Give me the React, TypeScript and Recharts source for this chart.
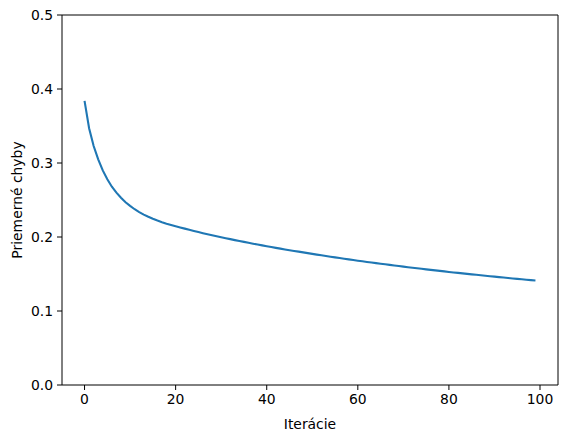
import React from 'react';
import { LineChart, Line, XAxis, YAxis, ReferenceLine, Label } from 'recharts';

const iterations: number[] = Array.from({ length: 100 }, (_, i) => i);
const errors: number[] = [
  0.384, 0.347, 0.323, 0.305, 0.290, 0.278, 0.268, 0.260, 0.253, 0.247,
  0.2420, 0.2375, 0.2337, 0.2303, 0.2273, 0.2246, 0.2222, 0.2200, 0.2180, 0.2162,
  0.2145, 0.2129, 0.2113, 0.2097, 0.2082, 0.2067, 0.2052, 0.2038, 0.2024, 0.2010,
  0.1997, 0.1984, 0.1971, 0.1958, 0.1946, 0.1934, 0.1922, 0.1910, 0.1898, 0.1887,
  0.1876, 0.1864, 0.1853, 0.1843, 0.1832, 0.1822, 0.1812, 0.1802, 0.1792, 0.1782,
  0.1772, 0.1762, 0.1753, 0.1744, 0.1734, 0.1725, 0.1716, 0.1707, 0.1698, 0.1689,
  0.1680, 0.1672, 0.1663, 0.1655, 0.1647, 0.1639, 0.1631, 0.1623, 0.1615, 0.1607,
  0.1600, 0.1592, 0.1585, 0.1577, 0.1570, 0.1563, 0.1556, 0.1549, 0.1542, 0.1535,
  0.1528, 0.1521, 0.1515, 0.1508, 0.1502, 0.1495, 0.1489, 0.1483, 0.1476, 0.1470,
  0.1464, 0.1458, 0.1452, 0.1446, 0.1440, 0.1434, 0.1429, 0.1423, 0.1417, 0.1412,
];
const xTicks: number[] = [0, 20, 40, 60, 80, 100];
const yTicks: number[] = [0, 0.1, 0.2, 0.3, 0.4, 0.5];
const xLabel = 'Iterácie';
const yLabel = 'Priemerné chyby';

const data = iterations.map((it, i) => ({ it, err: errors[i] }));

const font = { fontFamily: '"DejaVu Sans"', fontSize: 13.9, fill: '#000' };

export default function App() {
  return (
    <div style={{ position: 'absolute', left: 0, top: 0, width: 567, height: 438, background: '#fff' }}>
      <LineChart width={567} height={438} data={data} margin={{ top: 15, right: 9, bottom: 0, left: 0 }}>
        <XAxis
          dataKey="it"
          type="number"
          domain={[-4.95, 103.95]}
          ticks={xTicks}
          allowDataOverflow
          height={53}
          stroke="#000"
          tickSize={5}
          tickMargin={4}
          tick={font}
          tickLine={{ stroke: '#000' }}
          axisLine={{ stroke: '#000' }}
        >
          <Label value={xLabel} position="insideBottom" offset={9} style={{ ...font, textAnchor: 'middle' }} />
        </XAxis>
        <YAxis
          type="number"
          domain={[0, 0.5]}
          ticks={yTicks}
          allowDataOverflow
          width={62}
          stroke="#000"
          tickSize={5}
          tickMargin={4}
          tick={font}
          tickFormatter={(v: number) => v.toFixed(1)}
          tickLine={{ stroke: '#000' }}
          axisLine={{ stroke: '#000' }}
        >
          <Label value={yLabel} angle={-90} position="insideLeft" offset={17} style={{ ...font, textAnchor: 'middle' }} />
        </YAxis>
        <ReferenceLine y={0.5} stroke="#000" strokeWidth={1} />
        <ReferenceLine x={103.95} stroke="#000" strokeWidth={1} />
        <Line
          type="linear"
          dataKey="err"
          stroke="#1f77b4"
          strokeWidth={2.1}
          dot={false}
          isAnimationActive={false}
        />
      </LineChart>
    </div>
  );
}
